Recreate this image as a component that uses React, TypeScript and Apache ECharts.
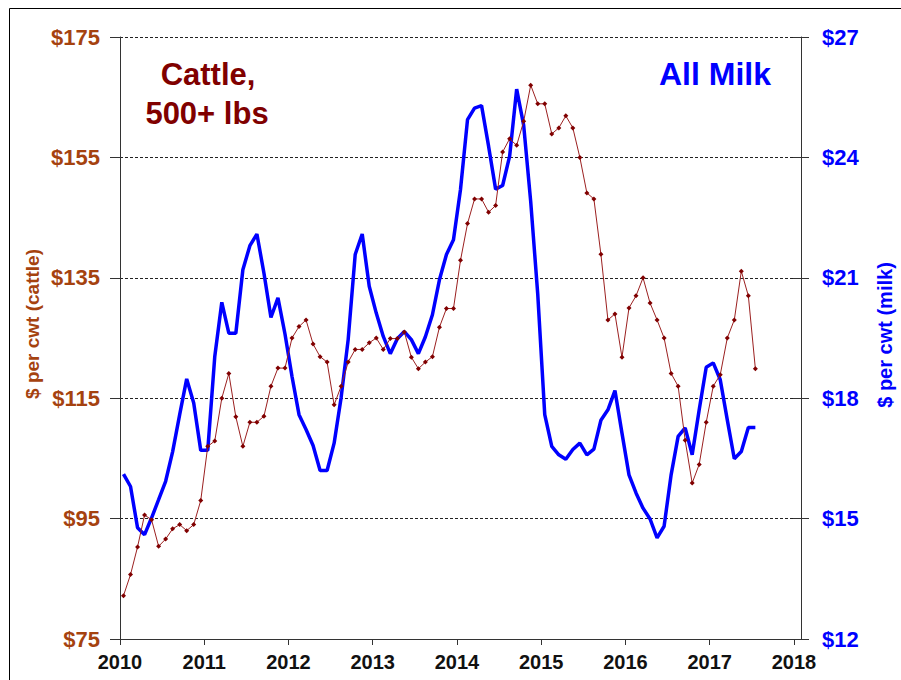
import React, { useEffect, useRef } from 'react';
import * as echarts from 'echarts';

const startYear = 2010;
const yearTicks = [2010, 2011, 2012, 2013, 2014, 2015, 2016, 2017, 2018];

// Monthly prices, Jan 2010 - Jul 2017
const cattle = [
  82.2, 85.7, 90.3, 95.6, 94.8, 90.4, 91.6, 93.3, 94.0, 93.0, 94.0, 98.0,
  107.0, 107.9, 115.0, 119.1, 111.9, 107.0, 111.0, 111.0, 112.0, 117.0, 120.0, 120.0,
  125.0, 126.9, 128.0, 124.0, 121.9, 121.0, 113.9, 117.0, 121.0, 123.1, 123.1, 124.2,
  125.0, 123.1, 124.9, 124.9, 126.0, 121.8, 119.9, 121.0, 121.9, 126.8, 129.9, 129.9,
  137.9, 144.0, 148.1, 148.1, 145.9, 147.0, 155.9, 158.1, 157.0, 161.0, 167.0, 163.9,
  163.9, 158.9, 159.9, 161.9, 159.9, 155.0, 149.1, 148.1, 138.9, 128.0, 129.0, 121.8,
  130.0, 132.0, 135.0, 130.8, 128.0, 125.0, 119.1, 117.0, 108.0, 100.9, 104.0, 111.0,
  117.0, 118.9, 125.0, 128.0, 136.1, 132.0, 119.9,
];

const milk = [
  16.11, 15.8, 14.77, 14.6, 15.02, 15.47, 15.93, 16.67, 17.59, 18.48, 17.88, 16.7,
  16.7, 19.04, 20.39, 19.62, 19.62, 21.2, 21.8, 22.09, 21.12, 20.01, 20.5, 19.6,
  18.54, 17.59, 17.22, 16.82, 16.2, 16.2, 16.88, 18.02, 19.46, 21.58, 22.09, 20.79,
  20.12, 19.54, 19.11, 19.48, 19.66, 19.46, 19.11, 19.53, 20.08, 20.95, 21.58, 21.95,
  23.2, 24.94, 25.23, 25.29, 24.28, 23.21, 23.3, 24.03, 25.7, 24.8, 22.9, 20.6,
  17.59, 16.8, 16.59, 16.48, 16.72, 16.88, 16.59, 16.73, 17.45, 17.71, 18.19, 17.13,
  16.09, 15.64, 15.26, 14.99, 14.52, 14.81, 16.09, 17.05, 17.26, 16.59, 17.71, 18.77,
  18.88, 18.46, 17.46, 16.49, 16.67, 17.27, 17.27,
];

const FONT = '"Liberation Sans", Arial, sans-serif';
const CATTLE_AXIS_COLOR = '#A5420F';
const MILK_COLOR = '#0000FF';

export default function App() {
  const ref = useRef<HTMLDivElement>(null);

  useEffect(() => {
    const chart = echarts.init(ref.current as HTMLDivElement, null, { renderer: 'svg' });
    const toPairs = (arr: number[]) => arr.map((v, i) => [startYear + (i + 0.5) / 12, v]);

    chart.setOption({
      animation: false,
      backgroundColor: '#ffffff',
      grid: { left: 120, right: 100, top: 37, bottom: 41, containLabel: false },
      xAxis: {
        type: 'value',
        min: 2010,
        max: 2018 + 1 / 12,
        axisLine: { show: true, onZero: false, lineStyle: { color: '#333', width: 1 } },
        axisTick: { show: true, customValues: yearTicks, length: 6, lineStyle: { color: '#333' } },
        axisLabel: {
          customValues: yearTicks,
          formatter: (v: number) => String(v),
          color: '#111',
          fontSize: 20,
          fontWeight: 'bold',
          fontFamily: FONT,
          margin: 13,
        },
        splitLine: { show: false },
      },
      yAxis: [
        {
          type: 'value',
          position: 'left',
          min: 75,
          max: 175,
          interval: 20,
          axisLine: { show: true, onZero: false, lineStyle: { color: '#333', width: 1 } },
          axisTick: { show: true, length: 10, lineStyle: { color: '#333' } },
          axisLabel: {
            formatter: (v: number) => '$' + v,
            color: CATTLE_AXIS_COLOR,
            fontSize: 22,
            fontWeight: 'bold',
            fontFamily: FONT,
            margin: 20,
          },
          splitLine: { show: true, lineStyle: { type: [3, 2], color: '#222', width: 1 } },
        },
        {
          type: 'value',
          position: 'right',
          min: 12,
          max: 27,
          interval: 3,
          axisLine: { show: true, onZero: false, lineStyle: { color: '#333', width: 1 } },
          axisTick: { show: true, length: 8, lineStyle: { color: '#333' } },
          axisLabel: {
            formatter: (v: number) => '$' + v,
            color: MILK_COLOR,
            fontSize: 22,
            fontWeight: 'bold',
            fontFamily: FONT,
            margin: 21,
          },
          splitLine: { show: false },
        },
        {
          type: 'value',
          position: 'right',
          min: 12,
          max: 27,
          interval: 3,
          axisLine: { show: false },
          axisTick: { show: true, inside: true, length: 8, lineStyle: { color: '#333' } },
          axisLabel: { show: false },
          splitLine: { show: false },
        },
      ],
      series: [
        {
          name: 'All Milk',
          type: 'line',
          yAxisIndex: 1,
          data: toPairs(milk),
          showSymbol: false,
          symbol: 'none',
          lineStyle: { color: MILK_COLOR, width: 3.5 },
          z: 2,
        },
        {
          name: 'Cattle, 500+ lbs',
          type: 'line',
          yAxisIndex: 0,
          data: toPairs(cattle),
          symbol: 'diamond',
          symbolSize: 5,
          itemStyle: { color: '#800000' },
          lineStyle: { color: '#9B2020', width: 1 },
          z: 3,
        },
      ],
      graphic: [
        {
          type: 'rect',
          silent: true,
          shape: { x: 9.5, y: 8.5, width: 1000, height: 1000 },
          style: { fill: 'none', stroke: '#000', lineWidth: 1 },
        },
        {
          type: 'text',
          x: 208,
          y: 74,
          style: {
            text: 'Cattle,',
            fill: '#800000',
            font: `bold 31px ${FONT}`,
            align: 'center',
            verticalAlign: 'middle',
            textAlign: 'center',
            textVerticalAlign: 'middle',
          },
        },
        {
          type: 'text',
          x: 207,
          y: 113,
          style: {
            text: '500+ lbs',
            fill: '#800000',
            font: `bold 31px ${FONT}`,
            align: 'center',
            verticalAlign: 'middle',
            textAlign: 'center',
            textVerticalAlign: 'middle',
          },
        },
        {
          type: 'text',
          x: 715,
          y: 74,
          style: {
            text: 'All Milk',
            fill: MILK_COLOR,
            font: `bold 32px ${FONT}`,
            align: 'center',
            verticalAlign: 'middle',
            textAlign: 'center',
            textVerticalAlign: 'middle',
          },
        },
        {
          type: 'text',
          x: 32,
          y: 324,
          rotation: Math.PI / 2,
          style: {
            text: '$ per cwt (cattle)',
            fill: CATTLE_AXIS_COLOR,
            font: `bold 19px ${FONT}`,
            align: 'center',
            verticalAlign: 'middle',
            textAlign: 'center',
            textVerticalAlign: 'middle',
          },
        },
        {
          type: 'text',
          x: 885,
          y: 335,
          rotation: Math.PI / 2,
          style: {
            text: '$ per cwt (milk)',
            fill: MILK_COLOR,
            font: `bold 20px ${FONT}`,
            align: 'center',
            verticalAlign: 'middle',
            textAlign: 'center',
            textVerticalAlign: 'middle',
          },
        },
      ],
    });

    return () => chart.dispose();
  }, []);

  return (
    <div
      ref={ref}
      style={{ position: 'fixed', left: 0, top: 0, width: 901, height: 680, background: '#fff' }}
    />
  );
}
